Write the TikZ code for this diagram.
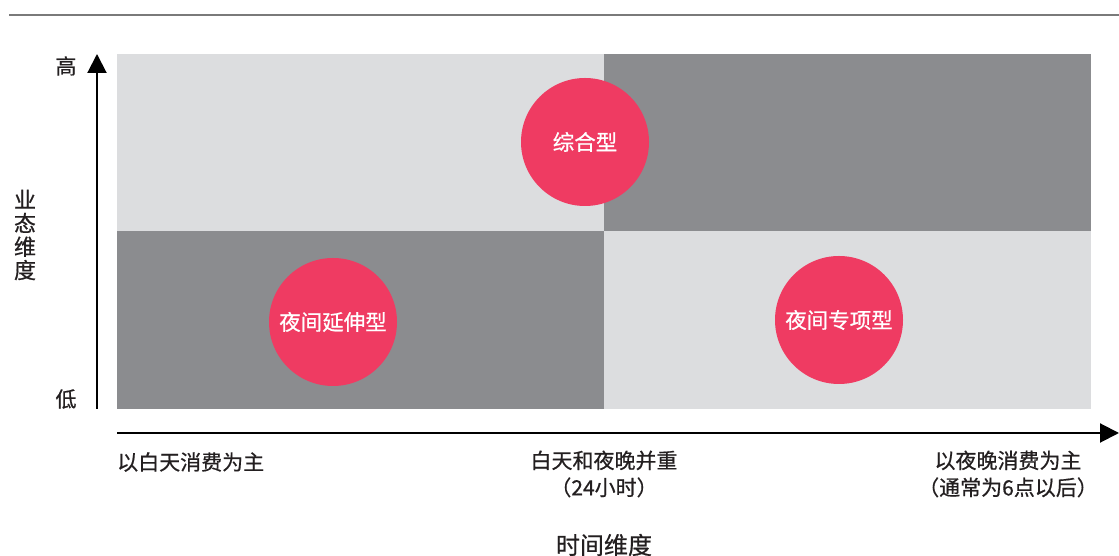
\documentclass[tikz,border=0pt]{standalone}
\usepackage{fontspec}
\setmainfont[FakeBold=0.6]{Noto Sans CJK SC}
\usetikzlibrary{arrows.meta}
\definecolor{lightq}{HTML}{DCDDDF}
\definecolor{darkq}{HTML}{8B8C8F}
\definecolor{pinkc}{HTML}{EF3B62}
\definecolor{txt}{HTML}{231F20}
\definecolor{rule}{HTML}{7A7A7A}
\begin{document}
\begin{tikzpicture}[x=1pt,y=1pt,
  bubble/.style={circle,fill=pinkc,minimum size=128pt,inner sep=0pt,text=white,font=\fontsize{21.5}{24}\selectfont},
  lab/.style={text=txt,font=\fontsize{21}{27}\selectfont,align=center,inner sep=0pt},
  axis/.style={line width=2pt,-{Triangle[width=19pt,length=19pt]}}]
\useasboundingbox (0,0) rectangle (1119,556);
% top rule
\coordinate (r1) at (9,541);
\coordinate (r2) at (1119,541);
\draw[rule,line width=1.5pt] (r1) -- (r2);
% quadrants
\fill[lightq] (117,325) rectangle (604,502);
\fill[darkq] (604,325) rectangle (1091,502);
\fill[darkq] (117,147) rectangle (604,325);
\fill[lightq] (604,147) rectangle (1091,325);
% bubbles
\node[bubble] (b1) at (585,414) {综合型};
\node[bubble] (b2) at (333,234) {夜间延伸型};
\node[bubble] (b3) at (839,236) {夜间专项型};
% axes
\coordinate (y0) at (97,147);
\coordinate (y1) at (97,502);
\draw[axis] (y0) -- (y1);
\coordinate (x0) at (117,123);
\coordinate (x1) at (1119,123);
\draw[axis] (x0) -- (x1);
% labels
\node[lab] (hi) at (66,490) {高};
\node[lab] (lo) at (66,157) {低};
\node[lab,font=\fontsize{22}{23.5}\selectfont] (ya) at (25,321) {业\\态\\维\\度};
\node[lab,anchor=west] (t1) at (117,94) {以白天消费为主};
\node[lab] (t2) at (604,82) {白天和夜晚并重\\（24小时）};
\node[lab] (t3) at (1008,82) {以夜晚消费为主\\（通常为6点以后）};
\node[lab,font=\fontsize{24}{27}\selectfont] (xa) at (604,11) {时间维度};
\end{tikzpicture}
\end{document}
